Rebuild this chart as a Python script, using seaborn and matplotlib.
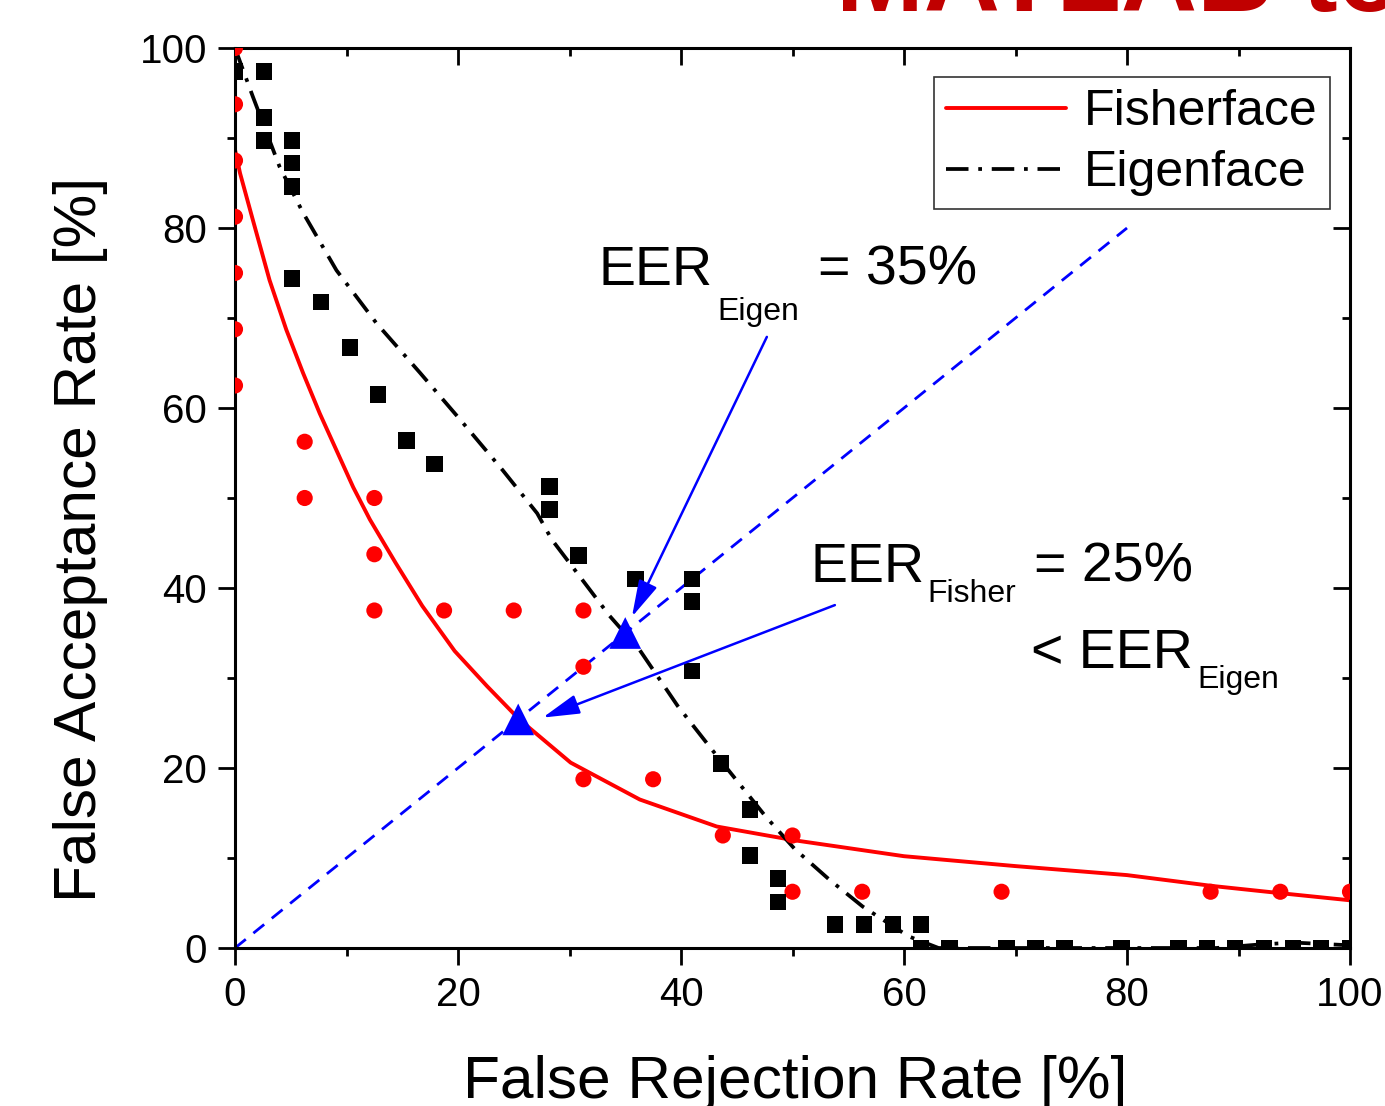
import numpy as np
import pandas as pd
import seaborn as sns
import matplotlib.pyplot as plt
from matplotlib.lines import Line2D
from matplotlib.ticker import MultipleLocator

# measured operating points (percent)
fisher_frr = [0, 0, 0, 0, 0, 0, 0, 6.25, 6.25, 12.5, 12.5, 12.5, 18.75, 25, 31.25,
              31.25, 31.25, 37.5, 43.75, 50, 50, 56.25, 68.75, 87.5, 93.75, 100, 100]
fisher_far = [100, 93.75, 87.5, 81.25, 75, 68.75, 62.5, 56.25, 50, 50, 43.75, 37.5, 37.5,
              37.5, 37.5, 31.25, 18.75, 18.75, 12.5, 12.5, 6.25, 6.25, 6.25, 6.25, 6.25, 6.25, 0]

eigen_frr = [0, 2.6, 2.6, 2.6, 5.1, 5.1, 5.1, 5.1, 7.7, 10.3, 12.8, 15.4, 17.9, 28.2, 28.2,
             30.8, 35.9, 41.0, 41.0, 41.0, 43.6, 46.2, 46.2, 48.7, 48.7, 53.8, 56.4, 59.0,
             61.5, 61.5, 64.1, 69.2, 71.8, 74.4, 79.5, 84.6, 87.2, 89.7, 92.3, 94.9, 97.4, 100]
eigen_far = [97.4, 97.4, 92.3, 89.7, 89.7, 87.2, 84.6, 74.4, 71.8, 66.7, 61.5, 56.4, 53.8,
             51.3, 48.7, 43.6, 41.0, 41.0, 38.5, 30.8, 20.5, 15.4, 10.3, 7.7, 5.1, 2.6, 2.6,
             2.6, 2.6, 0, 0, 0, 0, 0, 0, 0, 0, 0, 0, 0, 0, 0]

# fitted curves
fisher_fit_x = [0, 0.45, 1.6, 3.1, 4.6, 6.1, 7.6, 9.1, 10.6, 12.1, 14.4, 16.8, 19.7, 22.6,
                25.5, 30.1, 36.3, 43.2, 50, 60, 70, 80, 87.6, 93.7, 100]
fisher_fit_y = [88.7, 86.1, 80.9, 74.2, 68.7, 63.9, 59.4, 55.3, 51.2, 47.6, 42.8, 38.0, 33.0,
                29.1, 25.4, 20.6, 16.5, 13.5, 12.0, 10.2, 9.1, 8.1, 6.9, 6.1, 5.3]

eigen_fit_x = [0, 1.6, 4.0, 6.1, 9.1, 12.7, 16.6, 20.2, 24.0, 27.1, 28.4, 33.6, 36.3, 39.7,
               42.8, 47.6, 50.2, 53.3, 56.3, 60.4, 63.1, 70, 80, 88, 92, 95, 100]
eigen_fit_y = [100, 94.6, 86.8, 81.7, 75.3, 69.4, 63.9, 58.7, 53.1, 48.3, 45.4, 36.9, 33.1,
               26.9, 22.0, 14.6, 11.0, 7.6, 4.6, 1.3, 0, 0, 0, 0, 0.4, 0.6, 0.3]

diag_x = [0, 80]
diag_y = [0, 80]

eer_x = [35.0, 25.4]
eer_y = [35.0, 25.4]

sns.set_theme(style="white")
plt.rcParams["font.family"] = ["Liberation Sans", "DejaVu Sans"]
plt.rcParams["text.color"] = "black"
plt.rcParams["axes.labelcolor"] = "black"

DASHDOT = (0, (6, 2.6, 1, 2.6))

fig = plt.figure(figsize=(13.85, 11.06), dpi=100)
ax = fig.add_axes([235 / 1385, 1 - 948 / 1106, 1115 / 1385, 900 / 1106])

sns.lineplot(x=diag_x, y=diag_y, ax=ax, color="blue", lw=2.0,
             linestyle=(0, (5, 3.5)), legend=False)
sns.lineplot(x=fisher_fit_x, y=fisher_fit_y, ax=ax, color="red", lw=2.8,
             sort=False, estimator=None, legend=False)
sns.lineplot(x=eigen_fit_x, y=eigen_fit_y, ax=ax, color="black", lw=2.7,
             linestyle=DASHDOT, sort=False, estimator=None, legend=False)
sns.scatterplot(x=fisher_frr, y=fisher_far, ax=ax, color="red", marker="o", s=135,
                edgecolor="none", legend=False, zorder=3)
sns.scatterplot(x=eigen_frr, y=eigen_far, ax=ax, color="black", marker="s", s=140,
                edgecolor="none", legend=False, zorder=3)
sns.scatterplot(x=eer_x, y=eer_y, ax=ax, color="blue", marker="^", s=520,
                edgecolor="none", legend=False, zorder=5)

ax.set_xlim(0, 100)
ax.set_ylim(0, 100)
ax.xaxis.set_major_locator(MultipleLocator(20))
ax.xaxis.set_minor_locator(MultipleLocator(10))
ax.yaxis.set_major_locator(MultipleLocator(20))
ax.yaxis.set_minor_locator(MultipleLocator(10))
ax.tick_params(which="major", direction="out", length=12, width=2, labelsize=29,
               pad=8, colors="black", left=True, bottom=True)
ax.tick_params(which="minor", direction="out", length=6, width=2, colors="black",
               left=True, bottom=True)
for sp in ax.spines.values():
    sp.set_linewidth(2.2)
    sp.set_color("black")

# inward ticks on top and right
top = ax.secondary_xaxis("top")
top.xaxis.set_major_locator(MultipleLocator(20))
top.xaxis.set_minor_locator(MultipleLocator(10))
top.tick_params(which="major", direction="in", length=12, width=2, labeltop=False, colors="black")
top.tick_params(which="minor", direction="in", length=6, width=2, colors="black")
right = ax.secondary_yaxis("right")
right.yaxis.set_major_locator(MultipleLocator(20))
right.yaxis.set_minor_locator(MultipleLocator(10))
right.tick_params(which="major", direction="in", length=12, width=2, labelright=False, colors="black")
right.tick_params(which="minor", direction="in", length=6, width=2, colors="black")

ax.set_xlabel("False Rejection Rate [%]", fontsize=43.5)
ax.set_ylabel("False Acceptance Rate [%]", fontsize=43.5)
ax.xaxis.set_label_coords(0.502, -0.119)
ax.yaxis.set_label_coords(-0.114, 0.454)

# annotations
ax.text(32.6, 73.7, "EER", fontsize=40)
ax.text(43.3, 69.8, "Eigen", fontsize=23)
ax.text(52.3, 73.7, "= 35%", fontsize=40)
ax.text(51.6, 40.7, "EER", fontsize=40)
ax.text(62.1, 38.4, "Fisher", fontsize=23)
ax.text(71.7, 40.7, "= 25%", fontsize=40)
ax.text(71.4, 31.1, "< EER", fontsize=40)
ax.text(86.3, 28.9, "Eigen", fontsize=23)

arrow = dict(arrowstyle="-|>,head_length=0.75,head_width=0.2", color="blue",
             lw=1.8, mutation_scale=30, shrinkA=0, shrinkB=0)
ax.annotate("", xy=(35.6, 36.8), xytext=(47.7, 67.9), arrowprops=arrow)
ax.annotate("", xy=(27.6, 25.6), xytext=(53.8, 38.1), arrowprops=arrow)

handles = [Line2D([], [], color="red", lw=2.8),
           Line2D([], [], color="black", lw=2.7, linestyle=DASHDOT)]
leg = ax.legend(handles, ["Fisherface", "Eigenface"], loc="upper right",
                bbox_to_anchor=(0.982, 0.968), fontsize=36, frameon=True, fancybox=False,
                handlelength=2.4, handletextpad=0.35, labelspacing=0.3,
                borderpad=0.25, borderaxespad=0)
leg.get_frame().set_edgecolor("black")
leg.get_frame().set_linewidth(1.2)

fig.text(836 / 1385, 1 - 11 / 1106, "MATLAB to", fontsize=76, fontweight="bold",
         color="#C00000", va="baseline", ha="left")

plt.savefig("out.png", dpi=100)
